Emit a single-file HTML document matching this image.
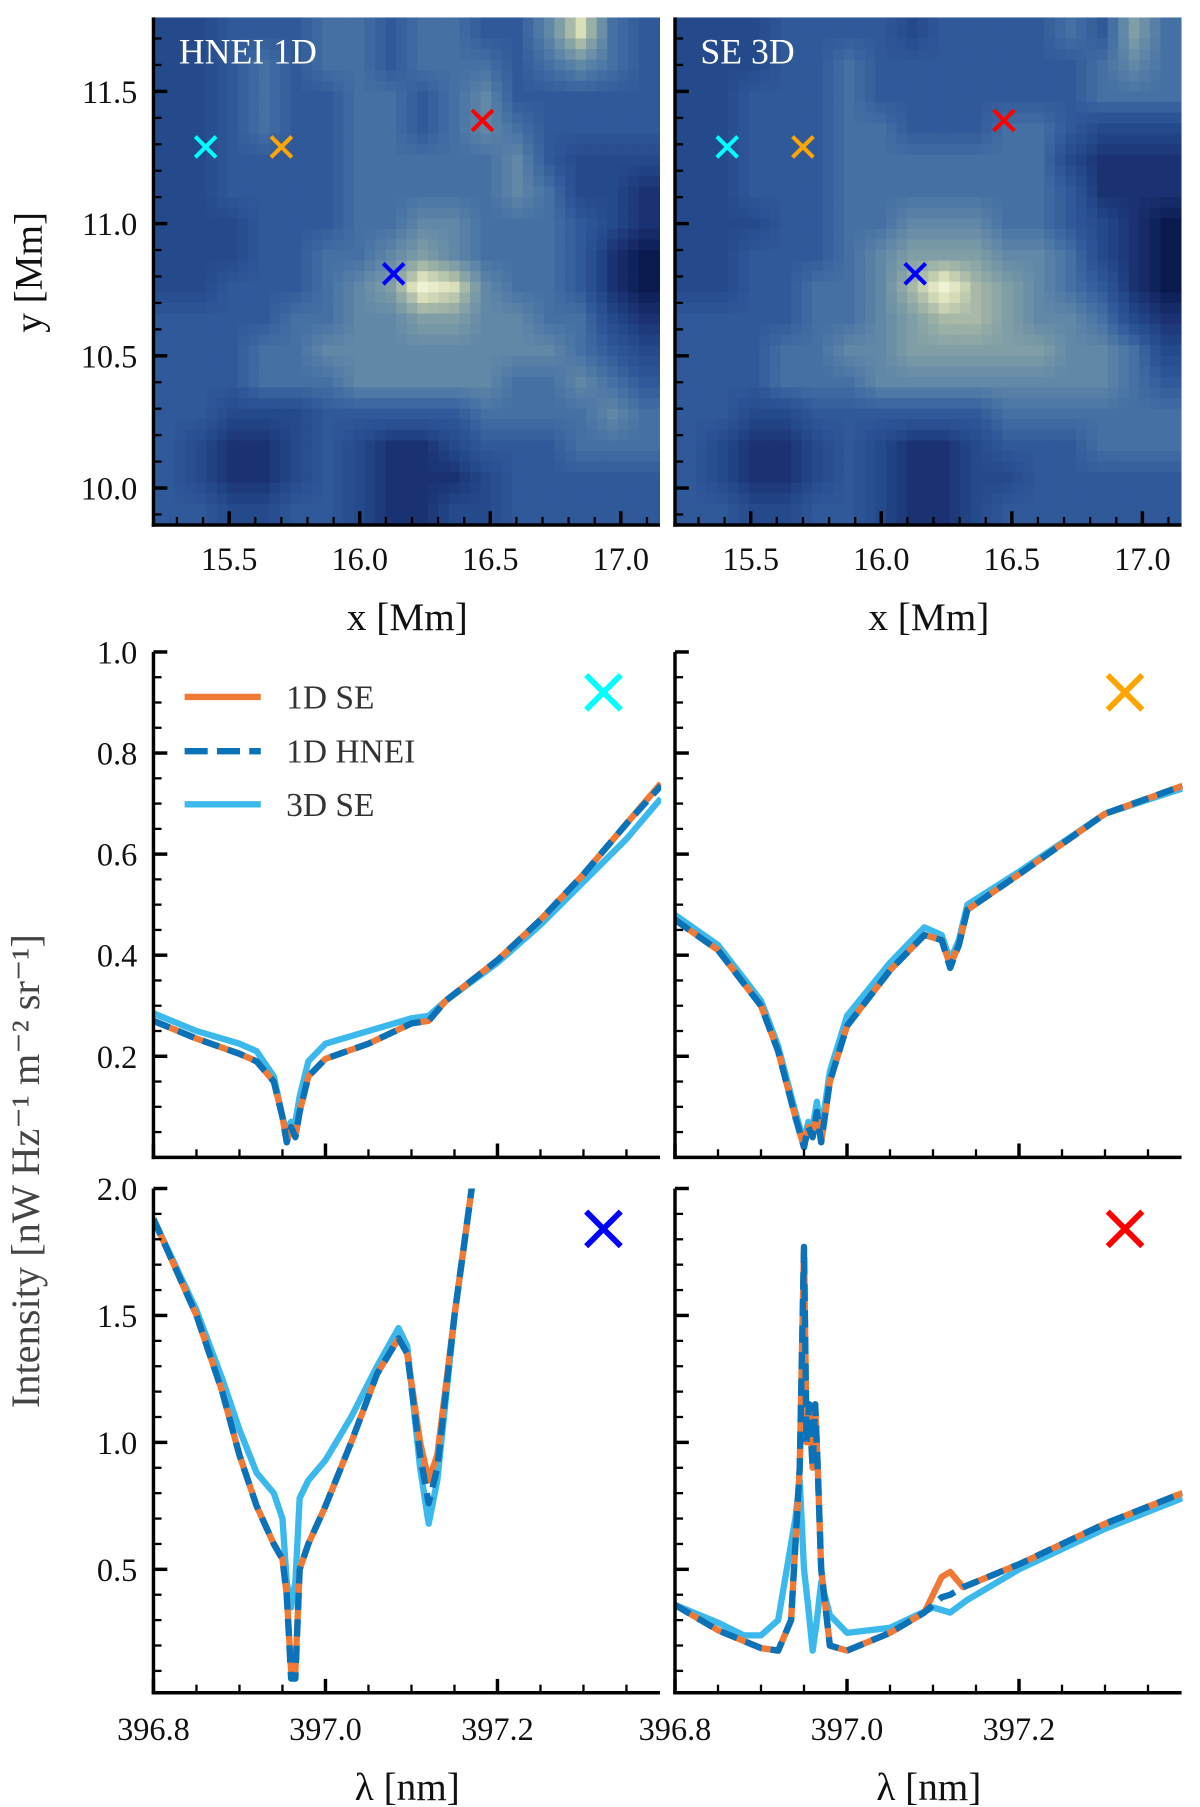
<!DOCTYPE html>
<html><head><meta charset="utf-8"><style>
html,body{margin:0;padding:0;background:#fff}
svg{display:block;font-family:"Liberation Serif","DejaVu Serif",serif}
</style></head><body>
<svg id="fig" width="1200" height="1807" viewBox="0 0 1040 1566" xmlns="http://www.w3.org/2000/svg"></svg>
<script>
// ---------- heatmap data (0..9 intensity levels) ----------
const mapLeft = [
[2,2,3,3,3,4,4,3,4,4,3,3,5,8,4,3],
[2,2,3,4,3,4,4,3,4,4,4,3,4,5,4,3],
[2,2,3,4,3,3,4,4,3,4,5,3,3,3,3,3],
[2,2,3,4,3,3,4,4,3,4,5,4,3,3,3,3],
[2,2,3,3,3,3,4,4,4,4,4,5,3,2,2,2],
[2,2,3,3,3,3,4,4,4,4,4,5,4,2,2,1],
[2,2,2,3,3,3,4,4,5,5,4,4,4,3,2,1],
[2,2,2,3,3,4,4,5,6,5,4,4,4,3,1,0],
[2,2,3,3,3,4,5,6,9,8,5,4,4,3,1,0],
[3,3,3,3,4,4,5,5,6,6,5,5,4,4,2,1],
[3,3,3,4,4,5,5,5,5,5,5,5,5,4,3,2],
[3,3,3,4,4,4,5,5,5,5,5,4,4,5,4,3],
[3,3,2,2,2,3,3,3,3,3,4,4,4,4,5,4],
[3,2,1,1,2,3,2,1,1,2,3,3,3,4,4,4],
[3,2,1,1,2,3,2,1,1,1,2,3,3,3,3,3],
[3,3,2,2,3,3,2,1,1,2,2,3,3,3,3,3]];
const mapRight = [
[2,2,2,3,3,3,3,2,3,3,3,3,4,3,6,4],
[2,2,2,3,3,4,3,3,3,3,3,3,3,4,5,4],
[2,2,3,3,3,4,3,3,3,3,3,3,3,4,4,4],
[2,2,3,3,3,4,4,3,3,3,4,4,3,2,2,2],
[2,2,3,3,3,4,4,4,4,4,4,4,2,1,1,1],
[2,2,3,3,3,4,4,4,4,4,4,4,3,1,1,1],
[2,2,2,3,3,4,4,5,5,5,4,4,3,2,1,0],
[2,2,3,3,3,4,5,6,6,6,5,5,4,2,1,0],
[2,2,3,3,4,4,5,7,9,7,6,5,4,3,1,0],
[3,3,3,3,4,4,5,6,7,7,6,5,5,4,2,1],
[3,3,3,4,4,5,5,6,6,6,6,6,5,5,4,2],
[3,3,3,4,4,4,5,5,5,5,5,5,5,5,4,3],
[3,3,2,2,3,3,3,3,3,3,4,4,4,4,4,4],
[3,2,1,1,2,3,2,1,1,2,3,3,3,4,4,4],
[3,2,1,1,2,3,2,1,1,2,2,3,3,3,3,3],
[3,3,2,2,3,3,2,1,1,2,3,3,3,3,3,3]];
const cmap = ["#0a1a4f","#1a3272","#254a8c","#30599a","#4470a4","#6288a8","#7f9ea5","#a8b9a8","#d9dfb8","#f0f2d5"];
const markerX = [15.41, 15.70, 16.47, 16.13];
const markerY = [11.29, 11.29, 11.39, 10.81];
const markerColors = ["#00ffff","#ffa500","#ff0000","#0000ff"];
const mapXTicks = [15.5,16.0,16.5,17.0];
const mapYTicks = [10.0,10.5,11.0,11.5];

// ---------- spectra data ----------
const cyanLam1 = [396.80,396.85,396.90,396.92,396.94,396.95,396.955,396.96,396.965,396.97,396.98,397.00,397.05,397.10,397.12,397.14,397.20,397.25,397.30,397.35,397.39];
const cyanSE1  = [0.27,0.235,0.205,0.19,0.15,0.08,0.03,0.06,0.04,0.09,0.16,0.195,0.225,0.265,0.27,0.31,0.39,0.47,0.56,0.66,0.74];
const cyanHN1  = [0.27,0.235,0.205,0.19,0.15,0.08,0.03,0.06,0.04,0.09,0.16,0.195,0.225,0.265,0.27,0.31,0.39,0.47,0.56,0.66,0.735];
const cyanSE3  = [0.285,0.25,0.225,0.21,0.16,0.08,0.05,0.07,0.07,0.12,0.19,0.225,0.25,0.275,0.28,0.31,0.385,0.46,0.545,0.63,0.71];

const orLam1 = [396.80,396.85,396.90,396.92,396.94,396.95,396.955,396.96,396.965,396.97,396.98,397.00,397.05,397.09,397.11,397.12,397.13,397.14,397.20,397.30,397.39];
const orSE1  = [0.47,0.41,0.30,0.21,0.08,0.02,0.06,0.04,0.09,0.03,0.15,0.26,0.37,0.44,0.43,0.38,0.42,0.49,0.56,0.68,0.735];
const orHN1  = [0.47,0.41,0.30,0.21,0.08,0.02,0.06,0.04,0.09,0.03,0.15,0.26,0.37,0.44,0.43,0.375,0.42,0.49,0.56,0.68,0.735];
const orSE3  = [0.48,0.42,0.31,0.22,0.09,0.03,0.07,0.06,0.11,0.05,0.17,0.28,0.385,0.455,0.44,0.39,0.43,0.50,0.565,0.68,0.73];

const blLam1 = [396.80,396.85,396.88,396.90,396.92,396.94,396.95,396.955,396.96,396.965,396.97,396.98,397.00,397.03,397.06,397.085,397.095,397.11,397.12,397.13,397.15,397.17,397.18];
const blSE1  = [1.88,1.5,1.2,0.95,0.75,0.6,0.54,0.4,0.1,0.1,0.5,0.6,0.75,1.0,1.27,1.41,1.35,1.0,0.85,0.95,1.5,2.0,2.3];
const blHN1  = [1.88,1.5,1.2,0.95,0.75,0.6,0.54,0.4,0.07,0.07,0.5,0.6,0.75,1.0,1.27,1.41,1.35,0.95,0.76,0.9,1.5,2.0,2.3];
const blSE3  = [1.88,1.52,1.25,1.05,0.88,0.8,0.7,0.45,0.35,0.45,0.78,0.85,0.93,1.1,1.3,1.45,1.38,0.9,0.68,0.85,1.5,2.0,2.3];

const rdLam1 = [396.80,396.85,396.90,396.92,396.935,396.945,396.95,396.953,396.956,396.96,396.963,396.966,396.97,396.98,397.00,397.05,397.09,397.11,397.12,397.135,397.20,397.30,397.39];
const rdSE1  = [0.36,0.26,0.19,0.18,0.3,0.9,1.77,1.0,1.15,0.9,1.15,0.9,0.5,0.2,0.18,0.25,0.33,0.47,0.49,0.43,0.52,0.68,0.8];
const rdHN1  = [0.36,0.26,0.19,0.18,0.3,0.9,1.77,1.0,1.15,0.9,1.15,0.9,0.5,0.2,0.18,0.25,0.33,0.39,0.40,0.43,0.52,0.68,0.8];
const rdLam3 = [396.80,396.85,396.88,396.90,396.92,396.94,396.945,396.95,396.955,396.96,396.965,396.97,396.98,397.00,397.05,397.10,397.12,397.14,397.20,397.30,397.39];
const rdSE3  = [0.36,0.29,0.24,0.24,0.3,0.7,0.85,0.5,0.35,0.18,0.3,0.45,0.32,0.25,0.27,0.35,0.33,0.38,0.5,0.66,0.78];

const lamTicks = [396.8,397.0,397.2];
const topYTicks = [0.2,0.4,0.6,0.8,1.0];
const botYTicks = [0.5,1.0,1.5,2.0];

// ---------- helpers ----------
const NS="http://www.w3.org/2000/svg";
const svg=document.getElementById('fig');
function mk(tag,attrs,parent){const e=document.createElementNS(NS,tag);for(const k in attrs)e.setAttribute(k,attrs[k]);(parent||svg).appendChild(e);return e;}
function txt(s,attrs,parent){const e=mk('text',attrs,parent);e.textContent=s;return e;}
function hex2rgb(h){return [1,3,5].map(i=>parseInt(h.substr(i,2),16));}
const cmapRGB=cmap.map(hex2rgb);
function colorAt(v){v=Math.max(0,Math.min(9,v));const i=Math.min(8,Math.floor(v)),f=v-i;
  const a=cmapRGB[i],b=cmapRGB[i+1];return 'rgb('+a.map((x,k)=>Math.round(x+(b[k]-x)*f)).join(',')+')';}

function axes(x0,x1,y0,y1,xmin,xmax,ymin,ymax){
  return {sx:v=>x0+(v-xmin)/(xmax-xmin)*(x1-x0), sy:v=>y1-(v-ymin)/(ymax-ymin)*(y1-y0), x0,x1,y0,y1};
}
function drawSpines(g,a){
  mk('line',{x1:a.x0,y1:a.y0,x2:a.x0,y2:a.y1+1.5,stroke:'#000','stroke-width':3},g);
  mk('line',{x1:a.x0-1.5,y1:a.y1,x2:a.x1,y2:a.y1,stroke:'#000','stroke-width':3},g);
}
function ticksX(g,a,from,to,step,major,labels,fs,ly){
  for(let v=from;v<=to+1e-9;v+=step){
    const isMaj=major.some(m=>Math.abs(m-v)<1e-6);
    const x=a.sx(v);
    mk('line',{x1:x,y1:a.y1,x2:x,y2:a.y1-(isMaj?12:7),stroke:'#000','stroke-width':isMaj?3:2},g);
  }
  if(labels) major.forEach(m=>{const t=txt(m.toFixed(1),{x:a.sx(m),y:ly,'font-size':fs,'text-anchor':'middle',fill:'#111'},g);
    });
}
function ticksY(g,a,from,to,step,major,fs,dec){
  for(let v=from;v<=to+1e-9;v+=step){
    const isMaj=major.some(m=>Math.abs(m-v)<1e-6);
    const y=a.sy(v);
    mk('line',{x1:a.x0,y1:y,x2:a.x0+(isMaj?12:7),y2:y,stroke:'#000','stroke-width':isMaj?3:2},g);
  }
  major.forEach(m=>{const t=txt(m.toFixed(dec),{x:a.x0-14,y:a.sy(m)+10,'font-size':fs,'text-anchor':'end',fill:'#111'},g);
    });
}
function cross(g,x,y,r,color,w){
  mk('path',{d:`M${x-r},${y-r}L${x+r},${y+r}M${x-r},${y+r}L${x+r},${y-r}`,stroke:color,'stroke-width':w,fill:'none'},g);
}

// ---------- heatmaps ----------
function heatmap(name,x0,title,data,showYLabels){
  const g=mk('g',{});
  
  const a=axes(x0,x0+439,15,455,15.21,17.15,9.86,11.78);
  const clip=mk('clipPath',{id:'c'+name},g);mk('rect',{x:a.x0,y:a.y0,width:439,height:440},clip);
  const cg=mk('g',{'clip-path':`url(#c${name})`},g);
  const nr=data.length,nc=data[0].length,U=3,R=nr*U,C=nc*U,cw=439/C,ch=440/R;
  function val(fr,fc){fr=Math.max(0,Math.min(nr-1,fr));fc=Math.max(0,Math.min(nc-1,fc));
    const r0=Math.floor(fr),c0=Math.floor(fc),r1=Math.min(nr-1,r0+1),c1=Math.min(nc-1,c0+1),dr=fr-r0,dc=fc-c0;
    return data[r0][c0]*(1-dr)*(1-dc)+data[r0][c1]*(1-dr)*dc+data[r1][c0]*dr*(1-dc)+data[r1][c1]*dr*dc;}
  for(let r=0;r<R;r++)for(let c=0;c<C;c++){
    const v=val((r+0.5)/U-0.5,(c+0.5)/U-0.5);
    const cell=mk('rect',{x:a.x0+c*cw,y:a.y0+r*ch,width:cw+0.6,height:ch+0.6,fill:colorAt(v)},cg);
    
  }
  for(let i=0;i<markerX.length;i++){
    const m=mk('g',{},g);
    cross(m,a.sx(markerX[i]),a.sy(markerY[i]),9,markerColors[i],3.5);
  }
  const t=txt(title,{x:a.x0+22,y:55,'font-size':31,fill:'#fff'},g);
  
  drawSpines(g,a);
  ticksX(g,a,15.3,17.1,0.1,mapXTicks,true,28,494);
  if(showYLabels) ticksY(g,a,9.9,11.7,0.1,mapYTicks,28,1);
  else { for(let v=9.9;v<=11.7+1e-9;v+=0.1){const maj=mapYTicks.some(m=>Math.abs(m-v)<1e-6);const y=a.sy(v);
    mk('line',{x1:a.x0,y1:y,x2:a.x0+(maj?12:7),y2:y,stroke:'#000','stroke-width':maj?3:2},g);} }
  const xl=txt('x [Mm]',{x:a.x0+220,y:546,'font-size':34,'text-anchor':'middle',fill:'#111'},g);
  
}
heatmap('heatmap-hnei-1d',133,'HNEI 1D',mapLeft,true);
heatmap('heatmap-se-3d',585,'SE 3D',mapRight,false);
const yl=txt('y [Mm]',{x:0,y:0,'font-size':34,'text-anchor':'middle',fill:'#111',transform:'translate(36,236) rotate(-90)'});


// ---------- spectra panels ----------
function series(g,a,lam,vals,style,name){
  const pts=lam.map((l,i)=>a.sx(l).toFixed(1)+','+a.sy(vals[i]).toFixed(1)).join(' ');
  const p=mk('polyline',Object.assign({points:pts,fill:'none','stroke-linejoin':'round','stroke-linecap':'butt'},style),g);
  
}
const S3={stroke:'#3bb9ec','stroke-width':5.5};
const S1={stroke:'#f07a35','stroke-width':5.5};
const SH={stroke:'#0a72b8','stroke-width':5.5,'stroke-dasharray':'15,8'};
function spectrum(name,x0,y0,y1,ymin,ymax,yt,minorFrom,minorStep,dec,l3,s3,l1,s1,h1,mcolor,showY,showX){
  const g=mk('g',{});
  const a=axes(x0,x0+439,y0,y1,396.8,397.389,ymin,ymax);
  const clip=mk('clipPath',{id:'c'+name},g);mk('rect',{x:a.x0,y:a.y0,width:440,height:y1-y0},clip);
  const cg=mk('g',{'clip-path':`url(#c${name})`},g);
  series(cg,a,l3,s3,S3,'line-3d-se');
  series(cg,a,l1,s1,S1,'line-1d-se');
  series(cg,a,l1,h1,SH,'line-1d-hnei');
  const m=mk('g',{},g);
  cross(m,x0+390,y0+35,15,mcolor,5);
  drawSpines(g,a);
  ticksX(g,a,396.8,397.35,0.05,lamTicks,showX,28,1508);
  if(showY) ticksY(g,a,minorFrom,ymax,minorStep,yt,28,1);
  else { for(let v=minorFrom;v<=ymax+1e-9;v+=minorStep){const maj=yt.some(t=>Math.abs(t-v)<1e-6);const y=a.sy(v);
    mk('line',{x1:a.x0,y1:y,x2:a.x0+(maj?12:7),y2:y,stroke:'#000','stroke-width':maj?3:2},g);} }
  if(showX){const xl=txt('λ [nm]',{x:a.x0+220,y:1560,'font-size':34,'text-anchor':'middle',fill:'#111','font-style':'normal'},g);
    }
  return g;
}
spectrum('panel-cyan',133,565,1003,0,1.0,topYTicks,0.05,0.05,1,cyanLam1,cyanSE3,cyanLam1,cyanSE1,cyanHN1,'#00ffff',true,false);
spectrum('panel-orange',585,565,1003,0,1.0,topYTicks,0.05,0.05,1,orLam1,orSE3,orLam1,orSE1,orHN1,'#ffa500',false,false);
spectrum('panel-blue',133,1030,1467,0.014,2.0,botYTicks,0.1,0.1,1,blLam1,blSE3,blLam1,blSE1,blHN1,'#0000ff',true,true);
spectrum('panel-red',585,1030,1467,0.014,2.0,botYTicks,0.1,0.1,1,rdLam3,rdSE3,rdLam1,rdSE1,rdHN1,'#ff0000',false,true);

// legend
const lg=mk('g',{});
[['1D SE',S1,604],['1D HNEI',SH,651],['3D SE',S3,697]].forEach(([lab,st,y])=>{
  const e=mk('g',{},lg);
  mk('line',Object.assign({x1:160,y1:y,x2:226,y2:y},st,{'stroke-dasharray':st['stroke-dasharray']?'20,8':'none','stroke-linecap':'butt'}),e);
  txt(lab,{x:248,y:y+10,'font-size':29,fill:'#333'},e);
});
const il=txt('Intensity [nW Hz⁻¹ m⁻² sr⁻¹]',{x:0,y:0,'font-size':35,'text-anchor':'middle',fill:'#444',transform:'translate(34,1015) rotate(-90)'});

</script>
</body></html>
